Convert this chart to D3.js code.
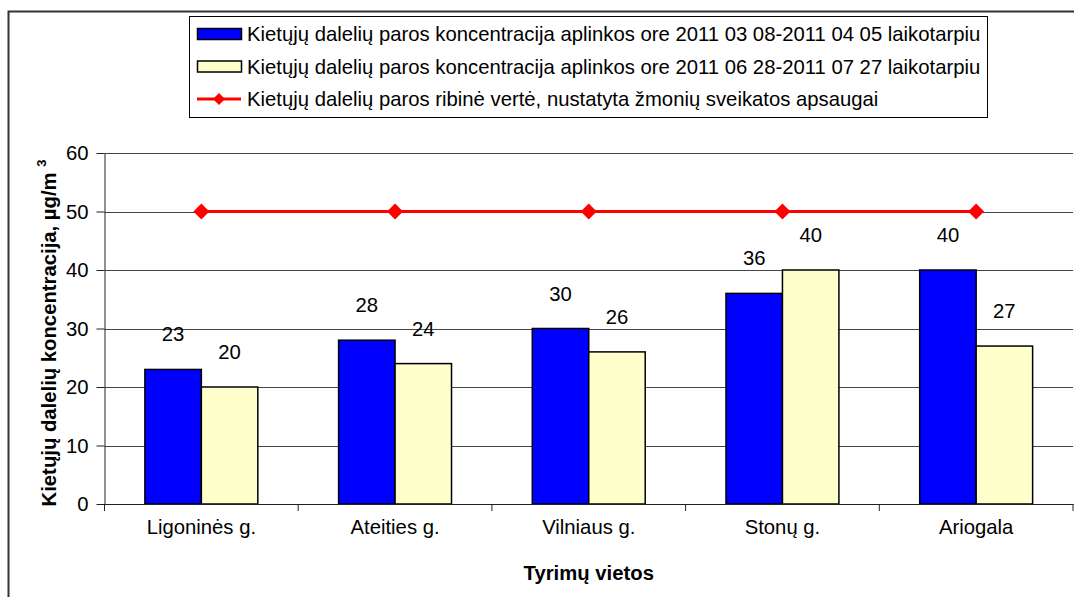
<!DOCTYPE html>
<html>
<head>
    <title>Kietųjų dalelių koncentracija</title>
    <meta charset="utf-8">
    <script src="https://cdn.jsdelivr.net/npm/d3@7"></script>
    <style>
        body { margin: 0; background: #fff; }
        svg { display: block; font-family: Arial, "Liberation Sans", sans-serif; }
        .axis text { font-size: 20.3px; fill: #000; }
        .axis path, .axis line { stroke: #222; }
        .grid line { stroke: #444; stroke-width: 1px; }
    </style>
</head>
<body>
<div id="chart"></div>
<script>
    const categories = ["Ligoninės g.", "Ateities g.", "Vilniaus g.", "Stonų g.", "Ariogala"];
    const spring = [23, 28, 30, 36, 40];
    const summer = [20, 24, 26, 40, 27];
    const limit = [50, 50, 50, 50, 50];
    const seriesNames = [
        "Kietųjų dalelių paros koncentracija aplinkos ore 2011 03 08-2011 04 05 laikotarpiu",
        "Kietųjų dalelių paros koncentracija aplinkos ore 2011 06 28-2011 07 27 laikotarpiu",
        "Kietųjų dalelių paros ribinė vertė, nustatyta žmonių sveikatos apsaugai"
    ];
    const yTicks = [0, 10, 20, 30, 40, 50, 60];
    const colors = ["#0000ff", "#ffffcc", "#ff0000"];

    const W = 1074, H = 597;
    const plot = {left: 104.5, right: 1073, top: 153, bottom: 504};
    const fs = 20.3;

    const svg = d3.select("#chart").append("svg")
        .attr("width", W)
        .attr("height", H);

    // outer chart frame (runs off the right and bottom edges)
    svg.append("rect")
        .attr("x", 8.5).attr("y", 11.5)
        .attr("width", W).attr("height", H)
        .attr("fill", "none")
        .attr("stroke", "#333")
        .attr("stroke-width", 2);

    const x = d3.scaleBand()
        .domain(categories)
        .range([plot.left, plot.right])
        .paddingInner(0.417)
        .paddingOuter(0.2085);

    const xs = d3.scaleBand()
        .domain([0, 1])
        .range([0, x.bandwidth()]);

    const y = d3.scaleLinear()
        .domain([0, 60])
        .range([plot.bottom, plot.top]);

    // gridlines
    svg.append("g")
        .attr("class", "grid")
        .selectAll("line")
        .data(yTicks.slice(1))
        .join("line")
        .attr("x1", plot.left).attr("x2", plot.right)
        .attr("y1", d => Math.round(y(d)) + 0.5)
        .attr("y2", d => Math.round(y(d)) + 0.5);

    // bars
    const series = [spring, summer];
    series.forEach((vals, s) => {
        svg.append("g")
            .selectAll("rect")
            .data(vals)
            .join("rect")
            .attr("x", (d, i) => x(categories[i]) + xs(s))
            .attr("y", d => y(d))
            .attr("width", xs.bandwidth())
            .attr("height", d => y(0) - y(d))
            .attr("fill", colors[s])
            .attr("stroke", "#000")
            .attr("stroke-width", 1.5);
    });

    // value labels
    series.forEach((vals, s) => {
        svg.append("g")
            .selectAll("text")
            .data(vals)
            .join("text")
            .attr("x", (d, i) => x(categories[i]) + xs(s) + xs.bandwidth() / 2)
            .attr("y", d => y(d) - 28)
            .attr("text-anchor", "middle")
            .attr("font-size", fs)
            .attr("fill", "#000")
            .text(d => d);
    });

    // limit line
    const cx = (d, i) => x(categories[i]) + x.bandwidth() / 2;
    svg.append("path")
        .attr("d", d3.line().x(cx).y(d => y(d))(limit))
        .attr("fill", "none")
        .attr("stroke", colors[2])
        .attr("stroke-width", 3);

    svg.append("g")
        .selectAll("path")
        .data(limit)
        .join("path")
        .attr("d", d3.symbol(d3.symbolSquare, 128))
        .attr("transform", (d, i) => `translate(${cx(d, i)},${y(d)}) rotate(45)`)
        .attr("fill", colors[2]);

    // y axis
    svg.append("g")
        .attr("class", "axis")
        .attr("transform", `translate(${plot.left},0)`)
        .call(d3.axisLeft(y).tickValues(yTicks).tickSize(8).tickPadding(8).tickSizeOuter(0));

    // x axis: line with ticks at category boundaries, labels at centres
    const xAxis = svg.append("g")
        .attr("class", "axis")
        .attr("transform", `translate(0,${plot.bottom})`)
        .call(d3.axisBottom(x).tickSize(0).tickPadding(16).tickSizeOuter(0));

    xAxis.selectAll(".sep")
        .data(d3.range(categories.length + 1))
        .join("line")
        .attr("class", "sep")
        .attr("x1", i => plot.left + i * x.step())
        .attr("x2", i => plot.left + i * x.step())
        .attr("y1", 0).attr("y2", 7);

    // axis titles
    svg.append("text")
        .attr("x", (plot.left + plot.right) / 2)
        .attr("y", 580)
        .attr("text-anchor", "middle")
        .attr("font-size", fs)
        .attr("font-weight", "bold")
        .text("Tyrimų vietos");

    const yt = svg.append("text")
        .attr("transform", `translate(56,333) rotate(-90)`)
        .attr("text-anchor", "middle")
        .attr("font-size", fs)
        .attr("font-weight", "bold");
    yt.append("tspan").text("Kietųjų dalelių koncentracija, µg/m ");
    yt.append("tspan").attr("font-size", 13).attr("dy", -10).text("3");

    // legend
    const lg = svg.append("g");
    lg.append("rect")
        .attr("x", 189.5).attr("y", 16.5)
        .attr("width", 798).attr("height", 101)
        .attr("fill", "#fff")
        .attr("stroke", "#000");

    const rowY = d3.scalePoint().domain(seriesNames).range([34, 99]);

    seriesNames.forEach((name, s) => {
        const ry = rowY(name);
        if (s < 2) {
            lg.append("rect")
                .attr("x", 197.5).attr("y", ry - 5.5)
                .attr("width", 44).attr("height", 11)
                .attr("fill", colors[s])
                .attr("stroke", "#000")
                .attr("stroke-width", 1.5);
        } else {
            lg.append("line")
                .attr("x1", 197).attr("x2", 241)
                .attr("y1", ry).attr("y2", ry)
                .attr("stroke", colors[2])
                .attr("stroke-width", 3);
            lg.append("path")
                .attr("d", d3.symbol(d3.symbolSquare, 72))
                .attr("transform", `translate(219,${ry}) rotate(45)`)
                .attr("fill", colors[2]);
        }
        lg.append("text")
            .attr("x", 247)
            .attr("y", ry + 7)
            .attr("font-size", fs)
            .text(name);
    });
</script>
</body>
</html>
